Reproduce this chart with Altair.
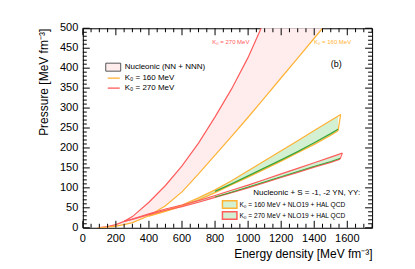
import altair as alt
import pandas as pd

FONT = "Liberation Sans"

# ---------------- data ----------------
# Nucleonic (NN + NNN) band: energy density [MeV fm^-3] vs pressure
nuc_e = [90, 150, 200, 250, 300, 400, 500, 600, 700, 800, 900, 1000, 1100, 1200, 1300, 1400, 1450]
nuc_k270 = [0, 3, 8, 16, 28, 64, 106, 155, 212, 278, 348, 427, 520, 615, 708, 800, 846]
nuc_k160 = [0, 1.5, 4, 8, 13, 30, 55, 90, 135, 182, 229, 277, 326, 376, 425, 475, 500]

# Hyperonic band, K0 = 160 MeV + NLO19 + HAL QCD
h160_e = [400, 500, 600, 700, 800, 900, 1000, 1100, 1200, 1300, 1400, 1500]
h160_up = [30, 43, 57, 75, 95, 118, 143, 168, 193, 218, 244, 269]
h160_lo = [29, 41, 54, 70, 88, 108, 127, 147, 167, 188, 209, 232]
h160_in = [30, 42, 56, 72, 91, 110, 130, 150, 170, 191, 213, 236]
h160_up_end = [1560, 284]
h160_lo_end = [1544, 243]
h160_in_end = [1544, 247]
h160_fill_end = [1544, 243, 280]

# Hyperonic band, K0 = 270 MeV + NLO19 + HAL QCD
h270_e = [250, 300, 400, 500, 600, 700, 800, 900, 1000, 1100, 1200, 1300, 1400, 1500]
h270_up = [16, 22, 35, 47, 57, 68, 81, 94, 107, 121, 135, 149, 163, 177]
h270_lo = [16, 21, 33, 44, 53, 64, 76, 88, 100, 113, 126, 139, 152, 164]
h270_in = [16, 21, 34, 45, 54, 65, 77, 89, 102, 115, 128, 141, 154, 166]
h270_up_end = [1570, 187]
h270_lo_end = [1556, 172]
h270_in_end = [1556, 174]
h270_fill_end = [1556, 172, 185]

# axis ticks / labels
x_labels = [0, 200, 400, 600, 800, 1000, 1200, 1400, 1600]
x_minor = [v for v in range(50, 1751, 50) if v % 200 != 0]
y_labels = [0, 50, 100, 150, 200, 250, 300, 350, 400, 450, 500]
y_minor = [v for v in range(10, 500, 10) if v % 50 != 0]

RED = "#ff5c5c"
ORANGE = "#ffb234"
PINK = "#ffeded"
GREEN_FILL = "#d3f0d3"
DKGREEN = "#2a9f2a"

W, H = 290, 200

# ---------------- scales & axes ----------------
xs = alt.Scale(domain=[0, 1750], nice=False, zero=False)
ys = alt.Scale(domain=[0, 500], nice=False, zero=False)

lab = dict(domain=False, grid=False, ticks=False, labels=False,
           titleFont=FONT, titleFontSize=12, titleFontWeight="normal",
           titleColor="black")

x_axis = alt.Axis(values=x_labels,
                  title="Energy density [MeV fm⁻³]",
                  titleX=W, titleY=30, titleAlign="right",
                  titleBaseline="alphabetic", titleAngle=0, **lab)
y_axis = alt.Axis(values=y_labels,
                  title="Pressure [MeV fm⁻³]",
                  titleX=-39, titleY=0, titleAlign="right", titleAngle=270,
                  titleBaseline="middle", **lab)

X = lambda f="e": alt.X(f"{f}:Q", scale=xs, axis=x_axis)
Y = lambda f="p": alt.Y(f"{f}:Q", scale=ys, axis=y_axis)

# ---------------- data frames ----------------
nuc = pd.DataFrame({"e": nuc_e, "hi": nuc_k270, "lo": nuc_k160})


def band_fill(e, up, lo, fill_end):
    return pd.DataFrame({"e": e + [fill_end[0]], "hi": up + [fill_end[2]], "lo": lo + [fill_end[1]]})


def series(e, p, end):
    return pd.DataFrame({"e": e + [end[0]], "p": p + [end[1]]})


def area_layer(df, color):
    return alt.Chart(df).mark_area(color=color, clip=True).encode(x=X(), y=Y("hi"), y2="lo:Q")


def line_layer(df, color, w=1.2, op=1.0):
    return alt.Chart(df).mark_line(color=color, strokeWidth=w, clip=True, opacity=op).encode(x=X(), y=Y())


layers = [
    area_layer(nuc, PINK),
    area_layer(band_fill(h160_e, h160_up, h160_lo, h160_fill_end), GREEN_FILL),
    area_layer(band_fill(h270_e, h270_up, h270_lo, h270_fill_end), GREEN_FILL),
    line_layer(pd.DataFrame({"e": nuc_e, "p": nuc_k270}), RED),
    line_layer(pd.DataFrame({"e": nuc_e, "p": nuc_k160}), ORANGE),
    # K0=160 hyperon band edges
    line_layer(series(h160_e, h160_up, h160_up_end), ORANGE),
    line_layer(series(h160_e, h160_lo, h160_lo_end), ORANGE),
    line_layer(pd.DataFrame({"e": [h160_up_end[0], h160_lo_end[0]], "p": [h160_up_end[1], h160_lo_end[1]]}), ORANGE),
    line_layer(series(h160_e[4:], h160_in[4:], h160_in_end), DKGREEN, 1.3, 0.9),
    # K0=270 hyperon band edges
    line_layer(series(h270_e, h270_up, h270_up_end), RED),
    line_layer(series(h270_e, h270_lo, h270_lo_end), RED),
    line_layer(pd.DataFrame({"e": [h270_up_end[0], h270_lo_end[0]], "p": [h270_up_end[1], h270_lo_end[1]]}), RED),
    line_layer(series(h270_e[6:], h270_in[6:], h270_in_end), DKGREEN, 1.0, 0.9),
]


# ---------------- inward ticks on all four sides (through the scales) ----------------
def xticks(vals, y1, y2):
    return alt.Chart(pd.DataFrame({"v": vals})).mark_rule(color="black", strokeWidth=1).encode(
        x=alt.X("v:Q", scale=xs, axis=x_axis), y=alt.value(y1), y2=alt.value(y2))


def yticks(vals, x1, x2):
    return alt.Chart(pd.DataFrame({"v": vals})).mark_rule(color="black", strokeWidth=1).encode(
        y=alt.Y("v:Q", scale=ys, axis=y_axis), x=alt.value(x1), x2=alt.value(x2))


ticks = [
    xticks(x_labels, H, H - 7), xticks(x_minor, H, H - 4),
    xticks(x_labels, 0, 7), xticks(x_minor, 0, 4),
    yticks(y_labels, 0, 7), yticks(y_minor, 0, 4),
    yticks(y_labels, W, W - 7), yticks(y_minor, W, W - 4),
]

# tick labels drawn through the same scales
x_lab = alt.Chart(pd.DataFrame({"v": x_labels})).mark_text(
    font=FONT, fontSize=11, color="black", baseline="top", align="center").encode(
    x=alt.X("v:Q", scale=xs, axis=x_axis), y=alt.value(H + 5), text=alt.Text("v:Q", format="d"))
y_lab = alt.Chart(pd.DataFrame({"v": y_labels})).mark_text(
    font=FONT, fontSize=11, color="black", baseline="middle", align="right").encode(
    y=alt.Y("v:Q", scale=ys, axis=y_axis), x=alt.value(-4.5), text=alt.Text("v:Q", format="d"))

one = pd.DataFrame({"a": [0]})


def rect(x1, x2, y1, y2, fill, stroke, sw):
    return alt.Chart(one).mark_rect(fill=fill, stroke=stroke, strokeWidth=sw).encode(
        x=alt.value(x1), x2=alt.value(x2), y=alt.value(y1), y2=alt.value(y2))


def seg(x1, x2, y, color):
    return alt.Chart(one).mark_rule(color=color, strokeWidth=1.3).encode(
        x=alt.value(x1), x2=alt.value(x2), y=alt.value(y))


def txt(x, y, s, size, color="black", align="left"):
    return alt.Chart(one).mark_text(text=s, font=FONT, fontSize=size, color=color,
                                    align=align, baseline="middle").encode(
        x=alt.value(x), y=alt.value(y))


legend = [
    rect(23, 38, 35, 43, PINK, "#555555", 1),
    txt(42, 39, "Nucleonic (NN + NNN)", 8),
    seg(25, 37, 50, ORANGE),
    txt(42, 50, "K₀ = 160 MeV", 8),
    seg(25, 37, 60, RED),
    txt(42, 60, "K₀ = 270 MeV", 8),
    txt(167, 14, "K₀ = 270 MeV", 6, RED, "right"),
    txt(269, 14, "K₀ = 160 MeV", 6, ORANGE, "right"),
    txt(254, 36, "(b)", 9, "black", "center"),
    txt(278, 165, "Nucleonic + S = -1, -2 YN, YY:", 8, "black", "right"),
    rect(140, 154.5, 173, 180.5, GREEN_FILL, ORANGE, 1.5),
    txt(157, 176.8, "K₀ = 160 MeV + NLO19 + HAL QCD", 6.6),
    rect(140, 154.5, 184, 191.5, GREEN_FILL, RED, 1.5),
    txt(157, 187.8, "K₀ = 270 MeV + NLO19 + HAL QCD", 6.6),
]

chart = alt.layer(*layers, *ticks, x_lab, y_lab, *legend).properties(
    width=W, height=H,
    autosize=alt.AutoSizeParams(type="none"),
    padding={"left": 75, "top": 20, "right": 35, "bottom": 35},
).configure_view(stroke="black", strokeWidth=1)

chart.save("out.html", embed_options={"renderer": "svg", "actions": False})
